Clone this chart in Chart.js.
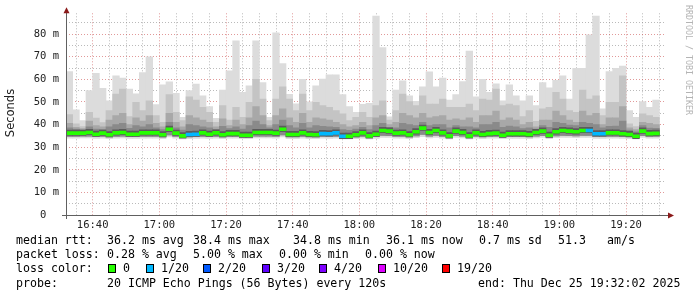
<!DOCTYPE html>
<html>
<head>
<meta charset="utf-8">
<script src="https://cdn.jsdelivr.net/npm/chart.js@4/dist/chart.umd.min.js"></script>
<style>
  html, body { margin: 0; padding: 0; background: #fff; }
</style>
</head>
<body>
<canvas id="smoke" width="697" height="297"></canvas>
<script>
// smokeping style graph, last 3 hours, 2 minute slots (minutes after 16:00)
const startMinute = 32;
const endMinute = 212;
const stepMinutes = 2;

// median rtt per slot (ms)
const rttMedian = [36.2,36.2,36.2,36.5,35.7,36.2,35.5,36.3,36.5,35.7,35.7,36.3,36.3,36.3,35.5,
  37.9,36.2,35.0,35.6,35.7,36.3,35.7,36.3,35.5,36.0,36.0,35.3,35.3,36.5,36.5,
  36.5,36.2,37.9,35.6,35.6,36.3,35.6,35.5,36.0,35.9,36.3,34.8,34.8,35.5,36.3,
  35.0,35.7,37.4,37.1,36.2,36.3,35.5,36.8,38.4,36.5,37.4,36.3,35.0,37.1,36.5,
  35.0,36.3,35.6,36.0,36.2,35.3,35.9,35.9,35.9,35.6,36.5,37.1,35.3,36.8,37.4,
  37.1,36.8,37.4,37.4,35.9,35.9,36.3,36.3,35.9,35.6,34.8,37.1,36.0,36.1];

// lost pings out of 20 per slot
const lossPings = [0,0,0,0,0,0,0,0,0,0,0,0,0,0,0,
  0,0,0,1,1,0,0,0,0,0,0,0,0,0,0,
  0,0,0,0,0,0,0,0,1,1,1,1,0,0,0,
  0,0,0,0,0,0,0,0,0,0,0,0,0,0,0,
  0,0,0,0,0,0,0,0,0,0,0,0,0,0,0,
  0,0,0,1,1,1,0,0,0,0,0,0,0,0];

// smoke: slowest ping per slot
const smokeMax = [63.4,46.5,41.8,55,62.6,56,50.5,61.5,60.5,55.7,53.6,63,70,48.8,57.6,
  58.9,53.8,43.2,55,57.9,52.7,47.9,42.7,55.2,63.8,77,54.2,57.1,77,58.6,
  43.2,80.6,67,53.4,49.2,60,50,57.1,60.1,62,62,53.2,47.9,45.4,48.9,
  49.4,88,74,43.4,55.2,59.3,52.7,50.3,56.7,63.3,56.7,60.5,50.8,53.2,59,
  72.5,52.3,60,54.2,58,50.5,57.6,52.7,50.5,52.7,48.4,58.6,56.2,59.6,61.5,
  51.3,64.9,64.9,79.7,88,46.9,63.4,64.9,65.9,46.2,43.2,50.2,47.6,50.8];

// smoke: upper part of the spread
const smokeHigh = [44.4,40.3,39.1,45.4,42.9,40.9,46.2,53.5,55.7,43.5,49.8,46.2,50.5,44,41,
  53.2,45.4,41.8,52.3,50.8,47.6,45.4,41,48.4,42,47.6,43.2,49.8,60,51.3,
  41.8,51.3,56.7,51.3,46.2,53.5,46.2,49.8,48.4,47.6,46.2,44.7,41.8,43.2,45.4,
  43.2,48.4,50.5,42,46.2,53.5,50.2,48.4,52.7,49.1,49.1,51.3,47.6,47.6,47.6,
  49.1,46.2,51.3,50.8,55.7,48.4,49.1,48.4,43.5,46.2,41.4,46.9,47.6,54.2,51.3,
  46.2,45.4,55.2,51.3,52.7,44,49.8,49.8,61.5,40.3,39.1,44.7,44,43.2];

const smokeQ3 = [40.5,38.8,38.2,41.5,39.5,39,42,44,45,40,43,41.5,44,40.5,39,
  45,41,39,44,43,42,41,39,42.5,39.5,42,40,43,48,44,
  39.5,44,47,43,41,45,41,43,42.5,42,41,40,39,39.5,41,
  39.5,43,44,40,41,45,44,43,45,43,43.5,44,42,42.5,42,
  43,41,44,44,46,42,43,42,40,41,39,42,42,46,44,
  42,41,46,44,45,40,43,43,48,38.5,37.8,41,40.5,40];

const smokeQ4 = [38.5,38,37.6,39,38,37.8,39,40,40.5,38.3,39.5,39,40,38.6,37.8,
  41,38.6,37.5,40,39.5,39,38.6,37.8,39.2,38.2,39,38,39.5,41.5,40,
  38.5,40,42,39.5,38.6,40.5,38.6,39.5,39.2,39,38.8,37.8,37.4,38,38.8,
  37.8,39.5,40.5,38.8,38.6,40.5,40,39.6,41,39.5,40,40,38.6,39.6,39,
  39,38.6,40,40,41,38.8,39.3,39,38.2,38.6,38,39.6,38.8,41,40.5,
  39.8,39.5,41,40.5,40,38.5,39.2,39.3,41.5,37.6,36.8,39.5,38.4,38.3];

// lower part of the spread and fastest ping
const rttLow = [34.8,34.8,34.9,34.9,34.6,34.8,34.5,34.8,34.9,34.6,34.6,34.8,34.8,34.8,34.5,
  35.4,34.8,34.3,34.5,34.6,34.8,34.6,34.8,34.5,34.7,34.7,34.4,34.4,34.9,34.9,
  34.9,34.8,35.4,34.5,34.5,34.8,34.5,34.5,34.7,34.7,34.8,34.2,34.2,34.5,34.8,
  34.3,34.6,35.2,35.1,34.8,34.8,34.5,35.0,35.6,34.9,35.2,34.8,34.3,35.1,34.9,
  34.3,34.8,34.5,34.7,34.8,34.4,34.7,34.7,34.7,34.5,34.9,35.1,34.4,35.0,35.2,
  35.1,35.0,35.2,35.2,34.7,34.7,34.8,34.8,34.7,34.5,34.2,35.1,34.7,34.7];

const rttMin = [34.0,34.0,34.1,34.1,33.9,34.0,33.8,34.0,34.1,33.9,33.9,34.0,34.0,34.0,33.8,
  34.5,34.0,33.7,33.8,33.9,34.0,33.9,34.0,33.8,34.0,34.0,33.8,33.8,34.1,34.1,
  34.1,34.0,34.5,33.8,33.8,34.0,33.8,33.8,34.0,33.9,34.0,33.6,33.6,33.8,34.0,
  33.7,33.9,34.3,34.3,34.0,34.0,33.8,34.2,34.6,34.1,34.3,34.0,33.7,34.3,34.1,
  33.7,34.0,33.8,34.0,34.0,33.8,33.9,33.9,33.9,33.8,34.1,34.3,33.8,34.2,34.3,
  34.3,34.2,34.3,34.3,33.9,33.9,34.0,34.0,33.9,33.8,33.6,34.3,34.0,34.0];

const yTicks = [0,5,10,15,20,25,30,35,40,45,50,55,60,65,70,75,80,85];

// legend texts
const rttSummary = ['36.2 ms avg', '38.4 ms max', '34.8 ms min', '36.1 ms now', '0.7 ms sd', '51.3', 'am/s'];
const lossSummary = ['0.28 % avg', '5.00 % max', '0.00 % min', '0.00 % now'];
const lossLabels = ['0', '1/20', '2/20', '3/20', '4/20', '10/20', '19/20'];
const lossSteps = [0, 1, 2, 3, 4, 10, 19];
const lossColors = ['#26ff00', '#00b8ff', '#0059ff', '#5e00ff', '#7e00ff', '#dd00ff', '#ff0000'];
const probeText = '20 ICMP Echo Pings (56 Bytes) every 120s';
const endText = 'end: Thu Dec 25 19:32:02 2025';

function slotX(i) {
    return startMinute + stepMinutes * i + stepMinutes / 2;
}

function lossColor(n) {
    let c = lossColors[0];
    for (let k = 0; k < lossSteps.length; k++) {
        if (n >= lossSteps[k]) c = lossColors[k];
    }
    return c;
}

function band(lo, hi) {
    return rttMedian.map((m, i) => ({ x: slotX(i), y: [lo[i], hi[i]] }));
}

function hhmm(v) {
    const h = 16 + Math.floor(v / 60);
    const m = v % 60;
    return h + ':' + (m < 10 ? '0' : '') + m;
}

const mono = 'DejaVu Sans Mono';
const majorGrid = 'rgba(200,70,70,0.55)';
const minorGrid = 'rgba(130,130,130,0.55)';

// axes, arrows, titles and legend drawn like rrdtool
const rrdDecor = {
    id: 'rrdDecor',
    afterDraw(chart) {
        const ctx = chart.ctx;
        const a = chart.chartArea;
        ctx.save();
        // axes
        ctx.strokeStyle = '#606060';
        ctx.lineWidth = 1;
        ctx.beginPath();
        ctx.moveTo(a.left + 0.5, a.bottom + 4);
        ctx.lineTo(a.left + 0.5, a.top - 1);
        ctx.moveTo(a.left - 4, a.bottom + 0.5);
        ctx.lineTo(a.right + 2, a.bottom + 0.5);
        ctx.stroke();
        ctx.fillStyle = '#8b1a1a';
        ctx.beginPath();
        ctx.moveTo(a.left + 0.5, a.top - 6);
        ctx.lineTo(a.left - 2.5, a.top);
        ctx.lineTo(a.left + 3.5, a.top);
        ctx.closePath();
        ctx.fill();
        ctx.beginPath();
        ctx.moveTo(a.right + 8, a.bottom + 0.5);
        ctx.lineTo(a.right + 2, a.bottom - 2.5);
        ctx.lineTo(a.right + 2, a.bottom + 3.5);
        ctx.closePath();
        ctx.fill();

        // y title
        ctx.save();
        ctx.translate(11, 113);
        ctx.rotate(-Math.PI / 2);
        ctx.fillStyle = '#222';
        ctx.font = '11.5px "DejaVu Sans"';
        ctx.textAlign = 'center';
        ctx.textBaseline = 'middle';
        ctx.fillText('Seconds', 0, 0);
        ctx.restore();

        // watermark
        ctx.save();
        ctx.translate(688, 5);
        ctx.rotate(Math.PI / 2);
        ctx.fillStyle = '#b4b4b4';
        ctx.font = '8.3px ' + mono;
        ctx.textAlign = 'left';
        ctx.textBaseline = 'middle';
        ctx.fillText('RRDTOOL / TOBI OETIKER', 0, 0);
        ctx.restore();

        // legend rows
        ctx.font = '11.6px ' + mono;
        ctx.fillStyle = '#000';
        ctx.textAlign = 'left';
        ctx.textBaseline = 'middle';
        const rttX = [107, 193, 293, 386, 479, 558, 607];
        ctx.fillText('median rtt:', 16, 241);
        rttSummary.forEach((t, i) => ctx.fillText(t, rttX[i], 241));
        const lossX = [107, 193, 279, 365];
        ctx.fillText('packet loss:', 16, 255);
        lossSummary.forEach((t, i) => ctx.fillText(t, lossX[i], 255));
        ctx.fillText('loss color:', 16, 269);
        const boxX = [108, 146, 203, 262, 319, 378, 442];
        lossLabels.forEach((t, i) => {
            ctx.fillStyle = lossColors[i];
            ctx.fillRect(boxX[i], 264, 8, 9);
            ctx.strokeStyle = '#000';
            ctx.strokeRect(boxX[i] + 0.5, 264.5, 7, 8);
            ctx.fillStyle = '#000';
            ctx.fillText(t, boxX[i] + 15, 269);
        });
        ctx.fillText('probe:', 16, 284);
        ctx.fillText(probeText, 107, 284);
        ctx.fillText(endText, 478, 284);
        ctx.restore();
    }
};

const ctx = document.getElementById('smoke').getContext('2d');
const smoke = new Chart(ctx, {
    type: 'bar',
    data: {
        datasets: [
            {
                label: 'median',
                data: rttMedian.map((m, i) => ({ x: slotX(i), y: [m - 0.65, m + 0.65] })),
                backgroundColor: lossPings.map(lossColor),
                order: 0
            },
            {
                label: 'core',
                data: rttMedian.map((m, i) => ({ x: slotX(i), y: [m - 1.0, m + 1.4] })),
                backgroundColor: '#5c5c5c',
                order: 1
            },
            { label: 'q4', data: band(rttLow, smokeQ4), backgroundColor: '#8a8a8a', order: 2 },
            { label: 'q3', data: band(rttLow, smokeQ3), backgroundColor: '#a8a8a8', order: 3 },
            { label: 'high', data: band(rttLow, smokeHigh), backgroundColor: '#c4c4c4', order: 4 },
            { label: 'max', data: band(rttMin, smokeMax), backgroundColor: '#dcdcdc', order: 5 }
        ]
    },
    options: {
        responsive: false,
        animation: false,
        grouped: false,
        barPercentage: 1,
        categoryPercentage: 1,
        borderWidth: 0,
        layout: { padding: { left: 0, top: 12, right: 31, bottom: 0 } },
        plugins: {
            legend: { display: false },
            tooltip: { enabled: false }
        },
        scales: {
            x: {
                type: 'linear',
                min: startMinute,
                max: endMinute,
                offset: false,
                afterBuildTicks: (s) => {
                    s.ticks = [];
                    for (let m = 35; m <= 210; m += 5) s.ticks.push({ value: m });
                },
                afterFit: (s) => { s.height = 82; },
                ticks: {
                    autoSkip: false,
                    maxRotation: 0,
                    minRotation: 0,
                    padding: 4,
                    color: '#222',
                    font: { family: mono, size: 10.5 },
                    callback: (v) => (v % 20 === 0 ? hhmm(v) : '')
                },
                grid: {
                    offset: false,
                    drawTicks: false,
                    lineWidth: 1,
                    color: (c) => (c.tick && c.tick.value % 20 === 0 ? majorGrid : minorGrid)
                },
                border: { display: false, dash: [1, 2] }
            },
            y: {
                min: 0,
                max: 89.2,
                afterBuildTicks: (s) => { s.ticks = yTicks.map((v) => ({ value: v })); },
                afterFit: (s) => { s.width = 66; },
                ticks: {
                    autoSkip: false,
                    padding: 7,
                    color: '#222',
                    font: { family: mono, size: 10.5 },
                    callback: (v) => (v % 10 ? '' : (v === 0 ? '0  ' : v + ' m'))
                },
                grid: {
                    drawTicks: false,
                    lineWidth: 1,
                    color: (c) => (c.tick && c.tick.value % 10 === 0 ? majorGrid : minorGrid)
                },
                border: { display: false, dash: [1, 2] }
            }
        }
    },
    plugins: [rrdDecor]
});
</script>
</body>
</html>
